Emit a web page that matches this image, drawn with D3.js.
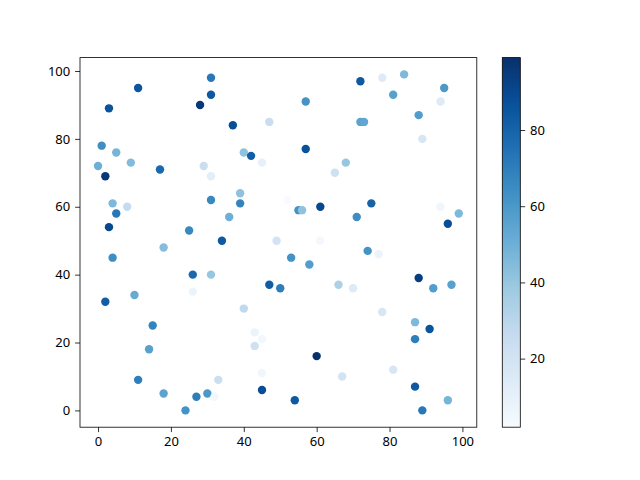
<!DOCTYPE html>
<html>
<head>
<meta charset="utf-8">
<script src="https://cdn.jsdelivr.net/npm/d3@7"></script>
<style>
  html, body { margin: 0; padding: 0; background: #fff; }
  svg text { font-family: "Noto Sans", "DejaVu Sans", sans-serif; font-size: 13px; fill: #000; }
</style>
</head>
<body>
<svg id="chart" width="640" height="480"></svg>
<script>
// Data: x, y and colour value per point
const xs = [31,11,31,3,28,37,47,1,5,9,40,42,45,0,2,17,29,31,39,31,39,52,4,8,5,36,3,25,34,49,18,
            72,78,84,95,57,81,94,88,72,73,89,57,68,65,55,56,61,75,71,94,99,96,61,
            4,26,31,47,50,10,26,2,40,15,14,43,45,43,45,11,33,45,18,27,30,32,24,53,
            74,77,58,88,92,97,66,70,78,87,91,87,60,81,67,87,54,96,89];
const ys = [98,95,93,89,90,84,85,78,76,73,76,75,73,72,69,71,72,69,64,62,61,62,61,60,58,57,54,53,50,50,48,
            97,98,99,95,91,93,91,87,85,85,80,77,73,70,59,59,60,61,57,60,58,55,50,
            45,40,40,37,36,34,35,32,30,25,18,23,21,19,11,9,9,6,5,4,5,4,0,45,
            47,46,43,39,36,37,37,36,29,26,24,21,16,12,10,7,3,3,0];
const cs = [72,85,84,86,96,88,25,64,48,45,42,82,10,50,96,78,24,12,42,66,68,2,46,26,72,50,90,66,84,20,44,
            84,14,46,60,62,56,14,58,55,54,18,87,40,22,62,42,90,80,64,6,46,88,4,
            64,78,40,82,70,52,8,82,28,68,56,8,5,22,6,70,24,88,55,70,60,5,62,62,
            62,8,58,94,58,56,34,14,18,46,86,70,99,18,20,84,84,48,72];
const xTicks = [0,20,40,60,80,100];
const yTicks = [0,20,40,60,80,100];
const cTicks = [20,40,60,80];
const bluesStops = ["#f7fbff","#deebf7","#c6dbef","#9ecae1","#6baed6","#4292c6","#2171b5","#08519c","#08306b"];

const points = xs.map((x, i) => ({x, y: ys[i], c: cs[i]}));

const svg = d3.select("#chart");
const ax = {left: 80, right: 476.8, top: 57.6, bottom: 427.2};
const cb = {left: 502.3, right: 520.3, top: 57.6, bottom: 427.2};

function padded(ext) { const m = (ext[1] - ext[0]) * 0.05; return [ext[0] - m, ext[1] + m]; }
const x = d3.scaleLinear().domain(padded(d3.extent(xs))).range([ax.left, ax.right]);
const y = d3.scaleLinear().domain(padded(d3.extent(ys))).range([ax.bottom, ax.top]);
const cExt = d3.extent(cs);
const cNorm = d3.scaleLinear().domain(cExt).range([0, 1]).clamp(true);
const blues = d3.scaleLinear()
  .domain(bluesStops.map((_, i) => i / (bluesStops.length - 1)))
  .range(bluesStops).interpolate(d3.interpolateRgb);
const color = v => blues(cNorm(v));

// points
const clipId = "clipAx";
svg.append("clipPath").attr("id", clipId).append("rect")
  .attr("x", ax.left).attr("y", ax.top).attr("width", ax.right - ax.left).attr("height", ax.bottom - ax.top);
svg.append("g").attr("clip-path", `url(#${clipId})`)
  .selectAll("circle").data(points).join("circle")
  .attr("cx", d => x(d.x)).attr("cy", d => y(d.y)).attr("r", 4.2)
  .attr("fill", d => color(d.c));

// axes
const tickLen = 4.9, tickPad = 4.9;
const xAxis = svg.append("g").attr("transform", `translate(0,${ax.bottom})`)
  .call(d3.axisBottom(x).tickValues(xTicks).tickSize(tickLen).tickPadding(tickPad).tickSizeOuter(0));
const yAxis = svg.append("g").attr("transform", `translate(${ax.left},0)`)
  .call(d3.axisLeft(y).tickValues(yTicks).tickSize(tickLen).tickPadding(tickPad).tickSizeOuter(0));
[xAxis, yAxis].forEach(g => {
  g.select(".domain").remove();
  g.selectAll(".tick line").attr("stroke", "#000").attr("stroke-width", 0.8);
  g.selectAll(".tick text").attr("font-size", null).attr("font-family", null);
});
xAxis.selectAll(".tick text").attr("dy", "0.72em");
svg.append("rect").attr("x", ax.left).attr("y", ax.top)
  .attr("width", ax.right - ax.left).attr("height", ax.bottom - ax.top)
  .attr("fill", "none").attr("stroke", "#000").attr("stroke-width", 0.8);

// colorbar
const defs = svg.append("defs");
const grad = defs.append("linearGradient").attr("id", "cbGrad")
  .attr("x1", "0").attr("y1", "1").attr("x2", "0").attr("y2", "0");
bluesStops.forEach((c, i) => grad.append("stop")
  .attr("offset", i / (bluesStops.length - 1)).attr("stop-color", c));
svg.append("rect").attr("x", cb.left).attr("y", cb.top)
  .attr("width", cb.right - cb.left).attr("height", cb.bottom - cb.top)
  .attr("fill", "url(#cbGrad)");
const cScale = d3.scaleLinear().domain(cExt).range([cb.bottom, cb.top]);
const cAxis = svg.append("g").attr("transform", `translate(${cb.right},0)`)
  .call(d3.axisRight(cScale).tickValues(cTicks).tickSize(tickLen).tickPadding(tickPad).tickSizeOuter(0));
cAxis.select(".domain").remove();
cAxis.selectAll(".tick line").attr("stroke", "#000").attr("stroke-width", 0.8);
cAxis.selectAll(".tick text").attr("font-size", null).attr("font-family", null);
svg.append("rect").attr("x", cb.left).attr("y", cb.top)
  .attr("width", cb.right - cb.left).attr("height", cb.bottom - cb.top)
  .attr("fill", "none").attr("stroke", "#000").attr("stroke-width", 0.8);
</script>
</body>
</html>
